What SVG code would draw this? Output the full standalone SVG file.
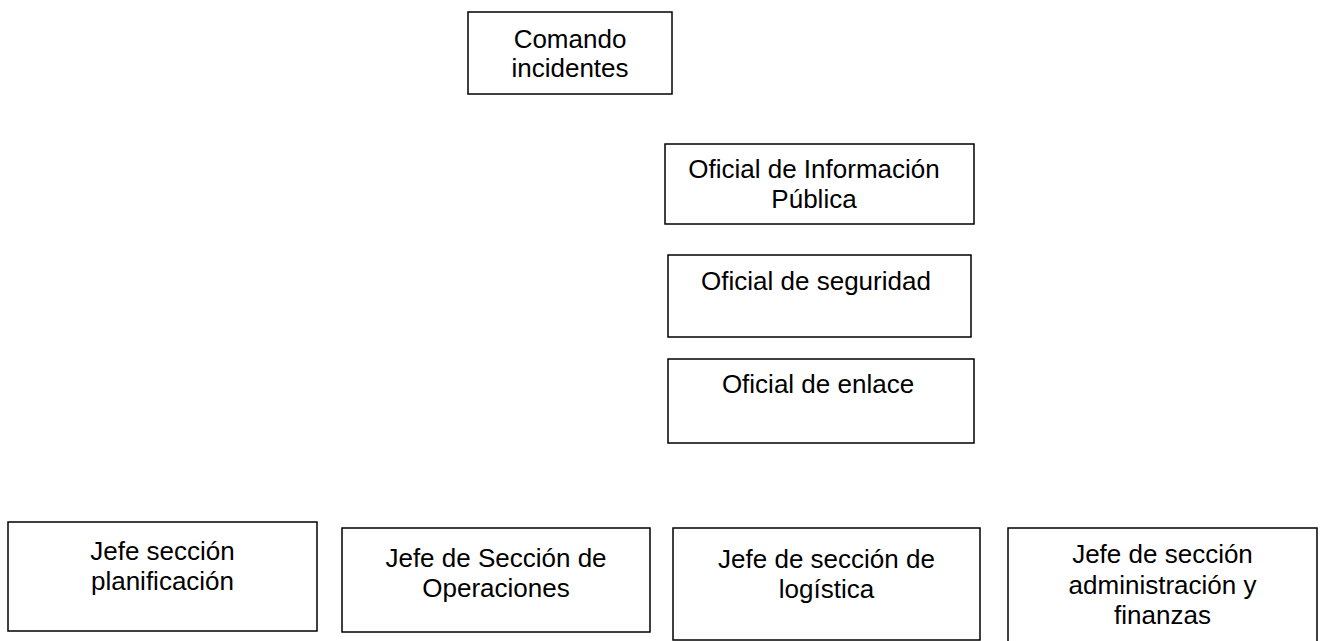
<svg xmlns="http://www.w3.org/2000/svg" width="1322" height="641" viewBox="0 0 1322 641">
<style>
rect.box{fill:#fff;stroke:#000;stroke-width:1.5}
text{font-family:"Liberation Sans",Arial,sans-serif;font-size:26px;fill:#000;text-anchor:middle}
</style>
<rect width="1322" height="641" fill="#fff"/>
<g id="connectors"></g>
<g id="comando"><rect class="box" x="468" y="12" width="204" height="82"/><text x="570" y="48">Comando</text><text x="570" y="77">incidentes</text></g>
<g id="info"><rect class="box" x="665" y="144" width="309" height="80"/><text x="814" y="178">Oficial de Información</text><text x="814" y="208">Pública</text></g>
<g id="seguridad"><rect class="box" x="668" y="255" width="303" height="82"/><text x="816" y="290">Oficial de seguridad</text></g>
<g id="enlace"><rect class="box" x="668" y="359" width="306" height="84"/><text x="818" y="393">Oficial de enlace</text></g>
<g id="planificacion"><rect class="box" x="8" y="522" width="309" height="109"/><text x="162.5" y="560">Jefe sección</text><text x="162.5" y="590">planificación</text></g>
<g id="operaciones"><rect class="box" x="342" y="528" width="308" height="104"/><text x="496" y="567">Jefe de Sección de</text><text x="496" y="597">Operaciones</text></g>
<g id="logistica"><rect class="box" x="673" y="528" width="307" height="112"/><text x="826.5" y="568">Jefe de sección de</text><text x="826.5" y="598">logística</text></g>
<g id="administracion"><rect class="box" x="1008" y="528" width="309" height="120"/><text x="1162.5" y="563">Jefe de sección</text><text x="1162.5" y="594">administración y</text><text x="1162.5" y="624">finanzas</text></g>
</svg>
